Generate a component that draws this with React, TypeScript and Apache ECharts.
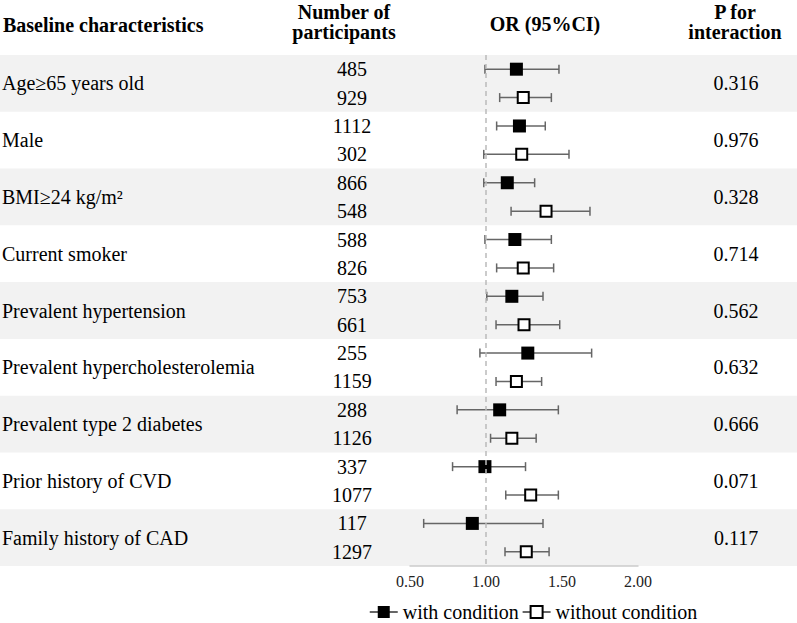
import React, { useEffect, useRef } from "react";
import * as echarts from "echarts";

const categories = [
  "Age≥65 years old",
  "Male",
  "BMI≥24 kg/m²",
  "Current smoker",
  "Prevalent hypertension",
  "Prevalent hypercholesterolemia",
  "Prevalent type 2 diabetes",
  "Prior history of CVD",
  "Family history of CAD",
];
const nWith = [485, 1112, 866, 588, 753, 255, 288, 337, 117];
const nWithout = [929, 302, 548, 826, 661, 1159, 1126, 1077, 1297];
const pInteraction = ["0.316", "0.976", "0.328", "0.714", "0.562", "0.632", "0.666", "0.071", "0.117"];

const withOR = [1.2, 1.22, 1.14, 1.19, 1.17, 1.275, 1.09, 0.993, 0.91];
const withLo = [0.993, 1.07, 0.985, 0.993, 1.005, 0.96, 0.81, 0.78, 0.59];
const withHi = [1.48, 1.39, 1.32, 1.43, 1.375, 1.695, 1.476, 1.26, 1.375];
const withoutOR = [1.245, 1.235, 1.395, 1.245, 1.25, 1.2, 1.17, 1.294, 1.265];
const withoutLo = [1.09, 0.985, 1.165, 1.07, 1.066, 1.066, 1.03, 1.13, 1.125];
const withoutHi = [1.43, 1.546, 1.684, 1.445, 1.485, 1.366, 1.33, 1.476, 1.415];

const xTicks = [0.5, 1.0, 1.5, 2.0];
const FONT = "'Liberation Serif', 'Times New Roman', serif";

export default function App() {
  const ref = useRef<HTMLDivElement>(null);
  useEffect(() => {
    document.body.style.margin = "0";
    if (!ref.current) return;
    const chart = echarts.init(ref.current, undefined, { renderer: "svg" });

    const bandData = categories.map((_, k) => [1, 2 * k, 2 * k + 2]);
    const tableData = categories.map((_, k) => [0.5, 2 * k + 1]);
    const whiskerData: number[][] = [];
    categories.forEach((_, k) => {
      whiskerData.push([withLo[k], withHi[k], 2 * k + 0.5]);
      whiskerData.push([withoutLo[k], withoutHi[k], 2 * k + 1.5]);
    });
    const withPts = categories.map((_, k) => [withOR[k], 2 * k + 0.5]);
    const withoutPts = categories.map((_, k) => [withoutOR[k], 2 * k + 1.5]);

    const headerStyle = (text: string) => ({
      text,
      fill: "#000",
      fontFamily: FONT,
      fontSize: 20,
      fontWeight: "bold",
      lineHeight: 20,
    });

    const option: any = {
      animation: false,
      grid: { left: 410, right: 159, top: 55, bottom: 57 },
      xAxis: {
        type: "value",
        min: xTicks[0],
        max: xTicks[xTicks.length - 1],
        interval: 0.5,
        axisLine: { show: true, onZero: false, lineStyle: { color: "#cccccc", width: 1.5 } },
        axisTick: { show: false },
        splitLine: { show: false },
        axisLabel: {
          formatter: (v: number) => v.toFixed(2),
          fontFamily: FONT,
          fontSize: 16,
          color: "#222",
          margin: 7,
        },
      },
      yAxis: { type: "value", min: 0, max: 18, inverse: true, show: false },
      legend: {
        data: ["with condition", "without condition"],
        left: 369,
        top: 602,
        padding: 0,
        itemWidth: 28,
        itemHeight: 15,
        itemGap: 3,
        textStyle: { fontFamily: FONT, fontSize: 20, color: "#000" },
        lineStyle: { color: "#333", width: 1.5, opacity: 1, type: "solid" },
      },
      graphic: [
        { type: "text", x: 3, y: 25, style: { ...headerStyle("Baseline characteristics"), align: "left", verticalAlign: "middle" } },
        { type: "text", x: 344, y: 22, style: { ...headerStyle("Number of\nparticipants"), align: "center", verticalAlign: "middle" } },
        { type: "text", x: 545, y: 24, style: { ...headerStyle("OR (95%CI)"), align: "center", verticalAlign: "middle" } },
        { type: "text", x: 735, y: 22, style: { ...headerStyle("P for\ninteraction"), align: "center", verticalAlign: "middle" } },
      ],
      series: [
        {
          type: "custom",
          name: "bands",
          z: 0,
          silent: true,
          data: bandData,
          encode: { x: 0, y: [1, 2] },
          renderItem: (params: any, api: any) => {
            const k = params.dataIndex;
            const top = api.coord([api.value(0), api.value(1)])[1];
            const bottom = api.coord([api.value(0), api.value(2)])[1];
            return {
              type: "rect",
              shape: { x: 0, y: top, width: 797, height: bottom - top },
              style: { fill: k % 2 === 0 ? "#f2f2f2" : "rgba(0,0,0,0)" },
            };
          },
        },
        {
          type: "custom",
          name: "table",
          z: 1,
          silent: true,
          data: tableData,
          encode: { x: 0, y: 1 },
          renderItem: (params: any, api: any) => {
            const k = params.dataIndex;
            const yMid = api.coord([api.value(0), api.value(1)])[1];
            const yA = api.coord([api.value(0), api.value(1) - 0.5])[1];
            const yB = api.coord([api.value(0), api.value(1) + 0.5])[1];
            const base = { fontFamily: FONT, fontSize: 20, fill: "#000", verticalAlign: "middle" };
            return {
              type: "group",
              children: [
                { type: "text", x: 2, y: yMid, style: { ...base, text: categories[k], align: "left" } },
                { type: "text", x: 352, y: yA, style: { ...base, text: String(nWith[k]), align: "center" } },
                { type: "text", x: 352, y: yB, style: { ...base, text: String(nWithout[k]), align: "center" } },
                { type: "text", x: 736, y: yMid, style: { ...base, text: pInteraction[k], align: "center" } },
              ],
            };
          },
        },
        {
          type: "custom",
          name: "whiskers",
          z: 2,
          silent: true,
          data: whiskerData,
          encode: { x: [0, 1], y: 2 },
          renderItem: (params: any, api: any) => {
            const lo = api.coord([api.value(0), api.value(2)]);
            const hi = api.coord([api.value(1), api.value(2)]);
            const h = 4.5;
            const st = { stroke: "#666", lineWidth: 1.5 };
            return {
              type: "group",
              children: [
                { type: "line", shape: { x1: lo[0], y1: lo[1], x2: hi[0], y2: hi[1] }, style: st },
                { type: "line", shape: { x1: lo[0], y1: lo[1] - h, x2: lo[0], y2: lo[1] + h }, style: st },
                { type: "line", shape: { x1: hi[0], y1: hi[1] - h, x2: hi[0], y2: hi[1] + h }, style: st },
              ],
            };
          },
          markLine: {
            silent: true,
            symbol: ["none", "none"],
            label: { show: false },
            lineStyle: { type: [5, 4], color: "#bbbbbb", width: 1.5 },
            data: [{ xAxis: 1 }],
          },
        },
        {
          type: "line",
          name: "with condition",
          z: 3,
          data: withPts,
          symbol: "rect",
          symbolSize: 13,
          showSymbol: true,
          lineStyle: { width: 0, opacity: 0 },
          itemStyle: { color: "#000" },
          emphasis: { disabled: true },
        },
        {
          type: "line",
          name: "without condition",
          z: 3,
          data: withoutPts,
          symbol: "rect",
          symbolSize: 11,
          showSymbol: true,
          lineStyle: { width: 0, opacity: 0 },
          itemStyle: { color: "#fff", borderColor: "#000", borderWidth: 2 },
          emphasis: { disabled: true },
        },
      ],
    };
    chart.setOption(option);
    return () => chart.dispose();
  }, []);
  return <div ref={ref} style={{ width: 797, height: 623 }} />;
}
